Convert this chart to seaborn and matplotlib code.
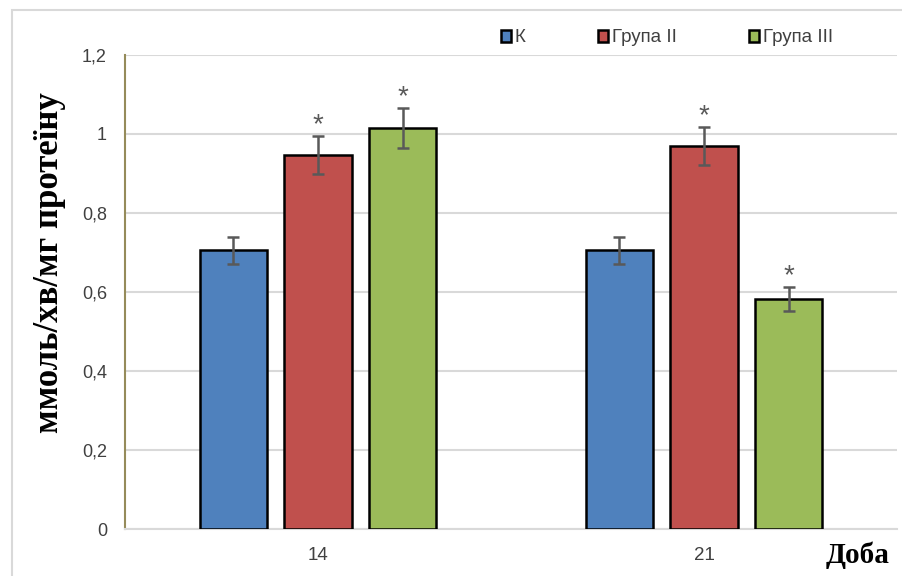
import matplotlib
matplotlib.use("Agg")
import matplotlib.pyplot as plt
import matplotlib.patches as mpatches
import seaborn as sns
import pandas as pd

days = ["14", "21"]
groups = ["К", "Група II", "Група III"]
means_k = [0.706, 0.706]
means_g2 = [0.947, 0.970]
means_g3 = [1.015, 0.582]
err_k = [0.034, 0.034]
err_g2 = [0.048, 0.048]
err_g3 = [0.050, 0.030]
significant = {"К": [False, False], "Група II": [True, True], "Група III": [True, True]}
y_ticks = [0, 0.2, 0.4, 0.6, 0.8, 1.0, 1.2]
y_tick_labels = ["0", "0,2", "0,4", "0,6", "0,8", "1", "1,2"]

colors = ["#4F81BD", "#C0504D", "#9BBB59"]

rows = []
for g, m, e in zip(groups, [means_k, means_g2, means_g3], [err_k, err_g2, err_g3]):
    for d, mv, ev in zip(days, m, e):
        rows.append({"day": d, "group": g, "value": mv, "err": ev})
df = pd.DataFrame(rows)

sns.set_theme(style="white")
plt.rcParams["font.family"] = ["Liberation Sans", "DejaVu Sans"]
serif = ["Liberation Serif", "DejaVu Serif"]

fig = plt.figure(figsize=(9.02, 5.76), dpi=100)
ax = fig.add_axes([125 / 902, 1 - 529 / 576, (897 - 125) / 902, (529 - 55) / 576])

sns.barplot(data=df, x="day", y="value", hue="group", order=days, hue_order=groups,
            palette=colors, saturation=1, width=0.66, gap=0.21, errorbar=None,
            edgecolor="black", linewidth=1.8, ax=ax, legend=False, zorder=3)

# error bars and significance marks placed on each bar's centre
patches = [p for p in ax.patches if isinstance(p, mpatches.Rectangle) and p.get_width() > 0]
patches = sorted(patches, key=lambda p: p.get_x())
records = [(d_i, g) for d_i in range(len(days)) for g in groups]
for p, (d_i, g) in zip(patches, records):
    row = df[(df.day == days[d_i]) & (df.group == g)].iloc[0]
    cx = p.get_x() + p.get_width() / 2
    ax.errorbar(cx, row.value, yerr=row.err, fmt="none", ecolor="#595959",
                elinewidth=1.8, capsize=4.5, capthick=1.8, zorder=4)
    if significant[g][d_i]:
        ax.text(cx, row.value + row.err - 0.006, "*", ha="center", va="bottom",
                fontsize=20, color="#595959", zorder=5)

ax.set_ylim(0, 1.2)
ax.set_xlim(-0.5, 1.5)
ax.set_yticks(y_ticks)
ax.set_yticklabels(y_tick_labels, fontsize=13, color="#404040")
ax.tick_params(axis="x", labelsize=13.5, labelcolor="#404040", pad=13, length=0)
ax.tick_params(axis="y", length=0, pad=13)
ax.yaxis.grid(True, color="#D9D9D9", linewidth=1.5, zorder=0)
ax.set_axisbelow(True)
ax.set_xlabel("")
ax.set_ylabel("ммоль/хв/мг протеїну", fontsize=25, fontweight="bold",
              family=serif, color="black")
ax.yaxis.set_label_coords(-0.077, 0.563)

for side in ["top", "right"]:
    ax.spines[side].set_visible(False)
ax.spines["left"].set_color("#958B5A")
ax.spines["left"].set_linewidth(1.5)
ax.spines["bottom"].set_color("#D9D9D9")
ax.spines["bottom"].set_linewidth(1.5)

fig.text(858 / 902, 1 - 555 / 576, "Доба", ha="center", va="center", fontsize=21,
         fontweight="bold", family=serif, color="black")

handles = [mpatches.Patch(facecolor=c, edgecolor="black", linewidth=1.8) for c in colors]
fig.legend(handles, groups, loc="center", bbox_to_anchor=(667 / 902, 1 - 38 / 576),
           ncol=3, frameon=False, fontsize=13.5, handlelength=0.55, handleheight=0.55,
           handletextpad=0.2, columnspacing=3.85, labelcolor="#404040")

# outer chart frame
fig.patches.append(mpatches.Rectangle((12 / 902, -0.05), 1.0, 1 - 10 / 576 + 0.05,
                                      transform=fig.transFigure, fill=False,
                                      edgecolor="#D9D9D9", linewidth=1.5))

fig.savefig("out.png", dpi=100)
